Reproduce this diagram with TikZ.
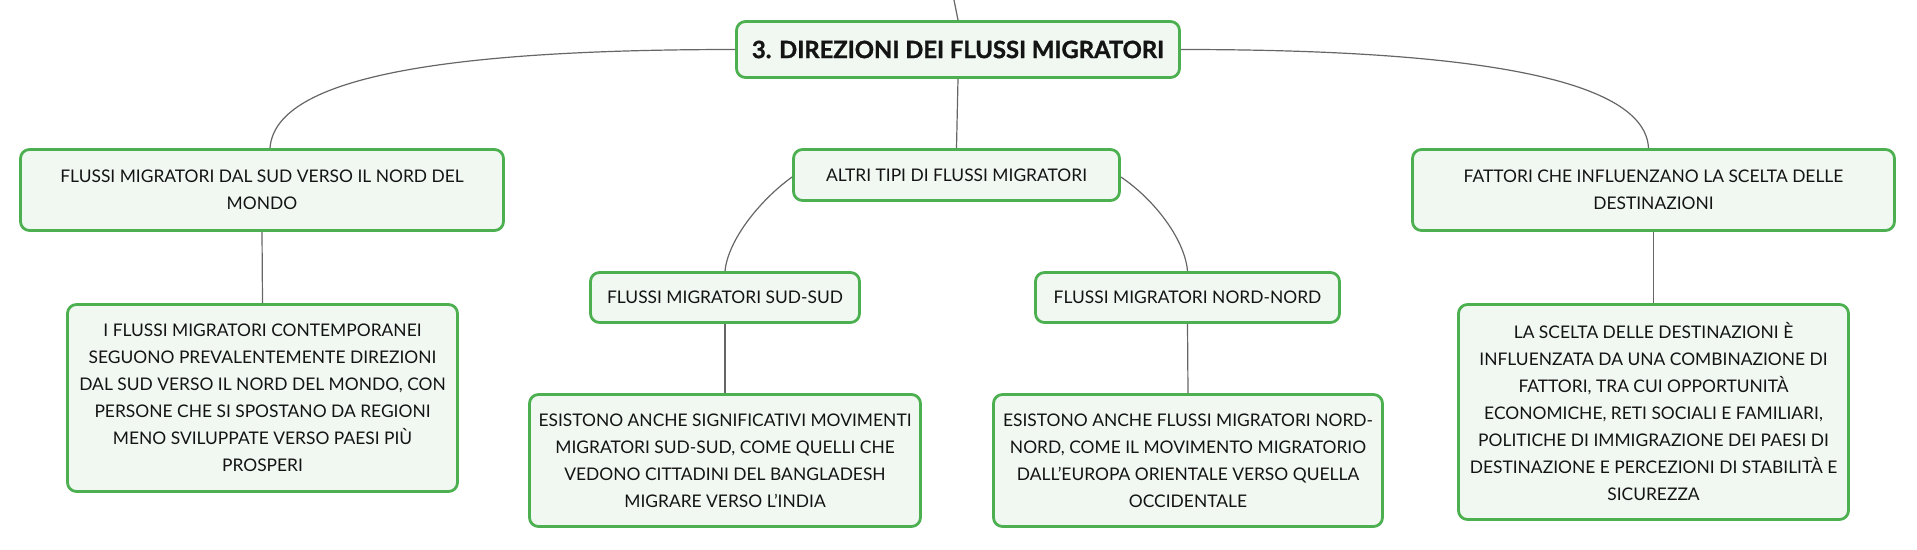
\documentclass[tikz,border=0pt]{standalone}
\usepackage{fontspec}
\setmainfont{Lato}
\definecolor{boxgreen}{HTML}{4CAF50}
\definecolor{boxfill}{HTML}{F1F8F2}
\definecolor{edgecol}{HTML}{666666}
\definecolor{textcol}{HTML}{141414}
\tikzset{
  box/.style={draw=boxgreen, fill=boxfill, line width=2.8pt, rounded corners=9pt,
    align=center, inner sep=0pt, text=textcol,
    font=\fontsize{17.4}{27}\selectfont},
  conn/.style={draw=edgecol, line width=1.2pt},
}
\begin{document}
\begin{tikzpicture}[x=1pt,y=-1pt]
\useasboundingbox (0,0) rectangle (1917,549);
\node[box, minimum width=443pt, minimum height=56pt, font=\fontsize{23.8}{28}\selectfont\bfseries\addfontfeature{FakeBold=1.2}] (root) at (958,49.5) {3. DIREZIONI DEI FLUSSI MIGRATORI};
\node[box, minimum width=483pt, minimum height=81pt] (sn) at (262,190) {FLUSSI MIGRATORI DAL SUD VERSO IL NORD DEL\\MONDO};
\node[box, minimum width=390pt, minimum height=187pt] (snd) at (262.5,398) {I FLUSSI MIGRATORI CONTEMPORANEI\\SEGUONO PREVALENTEMENTE DIREZIONI\\DAL SUD VERSO IL NORD DEL MONDO, CON\\PERSONE CHE SI SPOSTANO DA REGIONI\\MENO SVILUPPATE VERSO PAESI PIÙ\\PROSPERI};
\node[box, minimum width=326pt, minimum height=51pt] (alt) at (956.5,175) {ALTRI TIPI DI FLUSSI MIGRATORI};
\node[box, minimum width=269pt, minimum height=50pt] (ss) at (725,297.5) {FLUSSI MIGRATORI SUD-SUD};
\node[box, minimum width=391pt, minimum height=132pt] (ssd) at (725,460.5) {ESISTONO ANCHE SIGNIFICATIVI MOVIMENTI\\MIGRATORI SUD-SUD, COME QUELLI CHE\\VEDONO CITTADINI DEL BANGLADESH\\MIGRARE VERSO L'INDIA};
\node[box, minimum width=304pt, minimum height=50pt] (nn) at (1187.5,297.5) {FLUSSI MIGRATORI NORD-NORD};
\node[box, minimum width=389pt, minimum height=132pt] (nnd) at (1188,460.5) {ESISTONO ANCHE FLUSSI MIGRATORI NORD-\\NORD, COME IL MOVIMENTO MIGRATORIO\\DALL'EUROPA ORIENTALE VERSO QUELLA\\OCCIDENTALE};
\node[box, minimum width=482pt, minimum height=81pt] (fa) at (1653.5,190) {FATTORI CHE INFLUENZANO LA SCELTA DELLE\\DESTINAZIONI};
\node[box, minimum width=390pt, minimum height=215pt] (fad) at (1653.5,412) {LA SCELTA DELLE DESTINAZIONI È\\INFLUENZATA DA UNA COMBINAZIONE DI\\FATTORI, TRA CUI OPPORTUNITÀ\\ECONOMICHE, RETI SOCIALI E FAMILIARI,\\POLITICHE DI IMMIGRAZIONE DEI PAESI DI\\DESTINAZIONE E PERCEZIONI DI STABILITÀ E\\SICUREZZA};
\coordinate (top) at (954,0);
\draw[conn] (top) -- (root.north);
\draw[conn] (root.west) .. controls (430,49.5) and (275,80) .. ([xshift=8pt]sn.north);
\draw[conn] (root.east) .. controls (1480,49.5) and (1645,80) .. ([xshift=-5pt]fa.north);
\draw[conn] (root.south) -- (alt.north);
\draw[conn] ([yshift=-2pt]alt.west) .. controls (760,200) and (728,240) .. (ss.north);
\draw[conn] ([yshift=-2pt]alt.east) .. controls (1155,200) and (1185,240) .. (nn.north);
\draw[conn] (sn.south) -- (snd.north);
\draw[conn] (ss.south) -- (ssd.north);
\draw[conn] (nn.south) -- (nnd.north);
\draw[conn] (fa.south) -- (fad.north);
\end{tikzpicture}
\end{document}
